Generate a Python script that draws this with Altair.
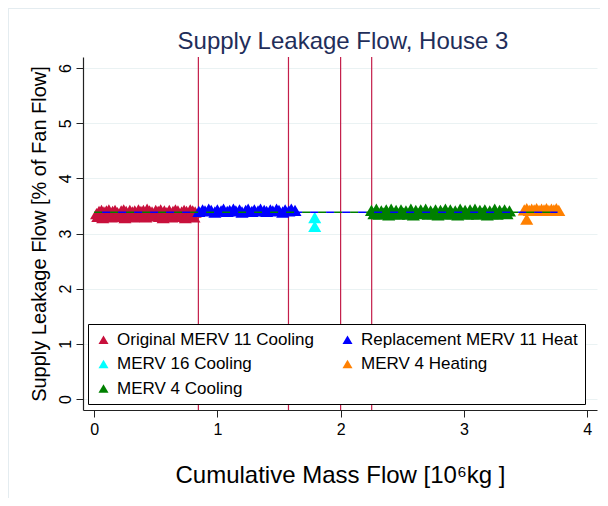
import altair as alt
import pandas as pd

# ---- data ----
series_order = ["Original MERV 11 Cooling", "MERV 16 Cooling", "MERV 4 Cooling",
                "Replacement MERV 11 Heat", "MERV 4 Heating"]
series_colors = ["#C8103C", "#00FFFF", "#008000", "#0000FF", "#FF8000"]

orig_x = [0.02, 0.04, 0.06, 0.08, 0.10, 0.12, 0.15, 0.17, 0.19, 0.22, 0.24, 0.26,
          0.29, 0.31, 0.33, 0.36, 0.38, 0.40, 0.43, 0.45, 0.47, 0.50, 0.52, 0.54,
          0.57, 0.59, 0.61, 0.64, 0.66, 0.68, 0.71, 0.73, 0.75, 0.78, 0.80, 0.82,
          0.03, 0.07, 0.11, 0.14, 0.18, 0.21, 0.25, 0.28, 0.32, 0.35, 0.39, 0.42,
          0.46, 0.49, 0.53, 0.56, 0.60, 0.63, 0.67, 0.70, 0.74, 0.77, 0.81]
orig_y = [3.36, 3.40, 3.42, 3.39, 3.41, 3.43, 3.40, 3.42, 3.38, 3.41, 3.43, 3.40,
          3.42, 3.39, 3.41, 3.43, 3.40, 3.42, 3.44, 3.41, 3.39, 3.42, 3.40, 3.43,
          3.41, 3.38, 3.42, 3.40, 3.43, 3.41, 3.39, 3.42, 3.40, 3.43, 3.41, 3.39,
          3.31, 3.29, 3.32, 3.30, 3.33, 3.31, 3.29, 3.32, 3.30, 3.33, 3.31, 3.30,
          3.32, 3.34, 3.31, 3.29, 3.32, 3.30, 3.33, 3.31, 3.29, 3.32, 3.30]

repl_x = [0.85, 0.88, 0.90, 0.93, 0.95, 0.98, 1.00, 1.03, 1.05, 1.08, 1.10, 1.13,
          1.15, 1.18, 1.20, 1.23, 1.25, 1.28, 1.30, 1.33, 1.35, 1.38, 1.40, 1.43,
          1.45, 1.48, 1.50, 1.53, 1.55, 1.58, 1.60, 1.63]
repl_y = [3.40, 3.43, 3.41, 3.44, 3.42, 3.39, 3.43, 3.41, 3.44, 3.40, 3.42, 3.44,
          3.41, 3.43, 3.39, 3.42, 3.44, 3.40, 3.43, 3.41, 3.44, 3.42, 3.40, 3.43,
          3.41, 3.44, 3.42, 3.39, 3.43, 3.41, 3.44, 3.42]

m16_x = [1.79, 1.79]
m16_y = [3.29, 3.13]

m4h_x = [3.49, 3.51, 3.53, 3.55, 3.57, 3.59, 3.61, 3.63, 3.65, 3.67, 3.69, 3.71,
         3.73, 3.75, 3.77, 3.51]
m4h_y = [3.43, 3.45, 3.42, 3.44, 3.43, 3.45, 3.42, 3.44, 3.43, 3.45, 3.42, 3.44,
         3.43, 3.45, 3.42, 3.26]

m4c_x = [2.25, 2.29, 2.33, 2.37, 2.41, 2.45, 2.49, 2.53, 2.57, 2.61, 2.65, 2.69,
         2.73, 2.77, 2.81, 2.85, 2.89, 2.93, 2.97, 3.01, 3.05, 3.09, 3.13, 3.17,
         3.21, 3.25, 3.29, 3.33, 3.37,
         2.27, 2.31, 2.35, 2.39, 2.43, 2.47, 2.51, 2.55, 2.59, 2.63, 2.67, 2.71,
         2.75, 2.79, 2.83, 2.87, 2.91, 2.95, 2.99, 3.03, 3.07, 3.11, 3.15, 3.19,
         3.23, 3.27, 3.31, 3.35]
m4c_y = [3.42, 3.44, 3.41, 3.43, 3.44, 3.42, 3.43, 3.41, 3.44, 3.42, 3.43, 3.44,
         3.41, 3.43, 3.42, 3.44, 3.43, 3.41, 3.44, 3.42, 3.43, 3.44, 3.42, 3.43,
         3.41, 3.44, 3.42, 3.43, 3.41,
         3.36, 3.35, 3.37, 3.34, 3.36, 3.35, 3.37, 3.35, 3.34, 3.36, 3.37, 3.35,
         3.36, 3.34, 3.37, 3.35, 3.36, 3.34, 3.37, 3.35, 3.36, 3.35, 3.37, 3.34,
         3.36, 3.35, 3.37, 3.36]

fit_x = [0.0, 3.76]
fit_y = [3.385, 3.385]

filter_change_x = [0.846, 1.577, 2.0, 2.252]

x_ticks = [0, 1, 2, 3, 4]
y_ticks = [0, 1, 2, 3, 4, 5, 6]

# ---- tables ----
rows = []
for name, xs, ys in [("Original MERV 11 Cooling", orig_x, orig_y),
                     ("Replacement MERV 11 Heat", repl_x, repl_y),
                     ("MERV 16 Cooling", m16_x, m16_y),
                     ("MERV 4 Cooling", m4c_x, m4c_y),
                     ("MERV 4 Heating", m4h_x, m4h_y)]:
    for a, b in zip(xs, ys):
        rows.append({"x": a, "y": b, "series": name})
pts = pd.DataFrame(rows)
pts["order"] = range(len(pts))
fit = pd.DataFrame({"x": fit_x, "y": fit_y})
vl = pd.DataFrame({"x": filter_change_x})

FONT = "Liberation Sans"
xscale = alt.Scale(domain=[-0.09, 4.08], nice=False, zero=False)
yscale = alt.Scale(domain=[-0.2, 6.2], nice=False, zero=False)

one = pd.DataFrame({"k": [0]})
frame_top = alt.Chart(one).mark_rule(stroke="#E4ECF0", strokeWidth=2).encode(
    x=alt.value(-75), x2=alt.value(530), y=alt.value(-49))
frame_left = alt.Chart(one).mark_rule(stroke="#E4ECF0", strokeWidth=2).encode(
    x=alt.value(-75), y=alt.value(-49), y2=alt.value(460))

points = alt.Chart(pts).mark_point(filled=True, shape="triangle-up", size=170, opacity=1).encode(
    x=alt.X("x:Q", scale=xscale,
            axis=alt.Axis(values=x_ticks, format="d", grid=False,
                          title="Cumulative Mass Flow [10⁶kg ]",
                          titleFontSize=24, titlePadding=26, labelPadding=4)),
    y=alt.Y("y:Q", scale=yscale,
            axis=alt.Axis(values=y_ticks, format="d", grid=True, labelAngle=270,
                          title="Supply Leakage Flow [% of Fan Flow]",
                          titleFontSize=20, titlePadding=8, labelPadding=3)),
    color=alt.Color("series:N",
                    scale=alt.Scale(domain=series_order, range=series_colors),
                    legend=alt.Legend(title=None, orient="none", legendX=5, legendY=267,
                                      columns=2, symbolType="triangle-up")),
    order=alt.Order("order:Q"),
)

fit_green = alt.Chart(fit).mark_line(color="#008000", strokeWidth=1.5, strokeDash=[8, 8]).encode(
    x=alt.X("x:Q", scale=xscale), y=alt.Y("y:Q", scale=yscale))
fit_blue = alt.Chart(fit).mark_line(color="#0000FF", strokeWidth=1.5, strokeDash=[8, 8],
                                    strokeDashOffset=8).encode(
    x=alt.X("x:Q", scale=xscale), y=alt.Y("y:Q", scale=yscale))

rules = alt.Chart(vl).mark_rule(color="#C41E4A", strokeWidth=1.2).encode(
    x=alt.X("x:Q", scale=xscale))

chart = alt.layer(frame_top, frame_left, rules, points, fit_green, fit_blue).properties(
    width=514, height=353,
    padding={"left": 75, "top": 49, "right": 3, "bottom": 88},
    autosize=alt.AutoSizeParams(type="none"),
    title=alt.TitleParams("Supply Leakage Flow, House 3", fontSize=24, font=FONT,
                          fontWeight="normal", color="#1F2E5A", anchor="middle",
                          frame="group", offset=3, dx=3, dy=50),
).configure_view(stroke="transparent").configure_axis(
    labelFont=FONT, titleFont=FONT, labelFontSize=16, labelColor="black",
    titleColor="black", titleFontWeight="normal", domainColor="#222222",
    tickColor="#222222", tickSize=7, domainWidth=1.2, gridColor="#EAF2F3",
).configure_legend(
    labelFont=FONT, labelFontSize=17, labelColor="black", labelLimit=400,
    strokeColor="black", fillColor="white", padding=7, columnPadding=25,
    rowPadding=6.5, symbolSize=100, labelOffset=5, symbolStrokeWidth=0,
)

chart.save("out.html", embed_options={"renderer": "svg", "actions": False})
